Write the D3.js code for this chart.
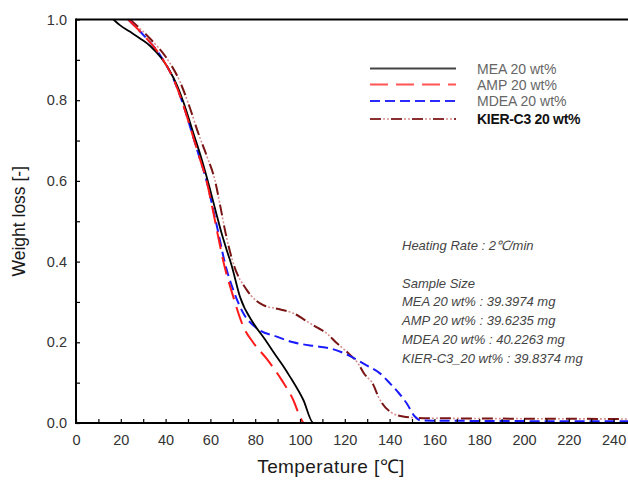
<!DOCTYPE html>
<html>
<head>
<meta charset="utf-8">
<script src="https://cdn.jsdelivr.net/npm/d3@7"></script>
<style>
  html, body { margin: 0; padding: 0; background: #fff; }
  svg { display: block; font-family: "Liberation Sans", Arial, sans-serif; }
</style>
</head>
<body>
<svg id="chart" width="628" height="482"></svg>
<script>
// ---- data ----
const xTicks = [0, 20, 40, 60, 80, 100, 120, 140, 160, 180, 200, 220, 240];
const yTicks = [0.0, 0.2, 0.4, 0.6, 0.8, 1.0];

const meaT = [16.7, 19.6, 24, 28.6, 33, 38, 42, 45, 47.9, 52.3, 56.3, 59.8, 62.6, 65, 67.2, 69.5, 73.2, 79.2, 84, 89.6, 93, 95.5, 101.5, 106, 250];
const meaW = [1.0, 0.986, 0.97, 0.953, 0.935, 0.905, 0.871, 0.838, 0.796, 0.72, 0.65, 0.58, 0.52, 0.47, 0.43, 0.39, 0.313, 0.247, 0.21, 0.164, 0.137, 0.115, 0.057, 0.0, 0.0];

const ampT = [23.3, 30, 37.5, 43.4, 47.9, 51.6, 55, 58.3, 61, 63, 65.8, 70.2, 74.7, 79, 85, 92, 97, 100.3, 101.8, 250];
const ampW = [1.0, 0.962, 0.912, 0.854, 0.788, 0.722, 0.66, 0.60, 0.53, 0.475, 0.40, 0.313, 0.239, 0.2, 0.16, 0.105, 0.057, 0.012, 0.0, 0.0];

const mdeaT = [23.3, 30, 37.5, 43.4, 47.5, 51.6, 55, 58.3, 61.2, 63.4, 66.5, 70.2, 74.7, 80.7, 89.6, 97, 107.4, 113.4, 120.8, 125, 130, 135.7, 140.2, 144, 147.6, 151.3, 154, 250];
const mdeaW = [1.0, 0.962, 0.912, 0.854, 0.795, 0.722, 0.66, 0.60, 0.53, 0.475, 0.396, 0.33, 0.272, 0.235, 0.214, 0.2, 0.19, 0.185, 0.17, 0.158, 0.142, 0.123, 0.098, 0.075, 0.049, 0.016, 0.006, 0.004];

const kierT = [24.1, 33, 40.5, 46.4, 50.9, 54.6, 58.5, 62, 64.5, 66.5, 70.2, 76.2, 83.6, 90, 97, 104.5, 108.2, 112, 116, 120.8, 126.8, 128.3, 132.7, 135, 140.2, 146, 155, 250];
const kierW = [1.0, 0.953, 0.904, 0.846, 0.78, 0.718, 0.66, 0.602, 0.535, 0.478, 0.396, 0.33, 0.292, 0.283, 0.272, 0.247, 0.235, 0.222, 0.2, 0.177, 0.14, 0.125, 0.095, 0.065, 0.028, 0.016, 0.012, 0.01];

const seriesNames = ["MEA 20 wt%", "AMP 20 wt%", "MDEA 20 wt%", "KIER-C3 20 wt%"];
const notes = ["Heating Rate : 2℃/min", "", "Sample Size", "MEA 20 wt% : 39.3974 mg", "AMP 20 wt% : 39.6235 mg", "MDEA 20 wt% : 40.2263 mg", "KIER-C3_20 wt% : 39.8374 mg"];

// ---- styles ----
const styles = [
  { color: "#000000", dash: null, width: 1.8, legendColor: "#444" },
  { color: "#ff1a1a", dash: "18,8", width: 2, legendColor: "#ff5555" },
  { color: "#1a1aff", dash: "10,5", width: 2, legendColor: "#2a2aff" },
  { color: "#7a1515", dash: "11,10", width: 2, legendColor: "#8a3030",
    dotColor: "#d89090", dotDash: "0,13,2,2,2,2" }
];
const data = [
  meaT.map((t, i) => [t, meaW[i]]),
  ampT.map((t, i) => [t, ampW[i]]),
  mdeaT.map((t, i) => [t, mdeaW[i]]),
  kierT.map((t, i) => [t, kierW[i]])
];

const svg = d3.select("#chart");
const mL = 76, mR = 636, mT = 19.5, mB = 423;
const x = d3.scaleLinear().domain([0, 250]).range([mL, mR]);
const y = d3.scaleLinear().domain([0, 1]).range([mB, mT]);

svg.append("rect").attr("width", 628).attr("height", 482).attr("fill", "#fff");

svg.append("defs").append("clipPath").attr("id", "clip")
  .append("rect").attr("x", mL).attr("y", mT - 2).attr("width", mR - mL).attr("height", mB - mT + 4);

// curves
const line = d3.line().x(d => x(d[0])).y(d => y(d[1])).curve(d3.curveMonotoneX);
const g = svg.append("g").attr("clip-path", "url(#clip)");
[3, 2, 0, 1].forEach(i => {
  g.append("path").datum(data[i])
    .attr("d", line)
    .attr("fill", "none")
    .attr("stroke", styles[i].color)
    .attr("stroke-width", styles[i].width)
    .attr("stroke-dasharray", styles[i].dash);
  if (styles[i].dotDash) {
    g.append("path").datum(data[i])
      .attr("d", line)
      .attr("fill", "none")
      .attr("stroke", styles[i].dotColor)
      .attr("stroke-width", 1.6)
      .attr("stroke-dasharray", styles[i].dotDash);
  }
});

// axes
const xAxis = d3.axisBottom(x).tickValues(d3.range(0, 251, 10)).tickSizeInner(-4).tickSizeOuter(0)
  .tickFormat(d => xTicks.includes(d) ? d : "");
const gx = svg.append("g").attr("transform", `translate(0,${mB})`).call(xAxis);
gx.select(".domain").remove();
gx.selectAll(".tick line").attr("stroke", "#000").attr("stroke-width", 1.2);
gx.selectAll(".tick text").attr("font-size", 14.5).attr("fill", "#333").attr("y", 12)
  .attr("font-family", "Liberation Sans, Arial, sans-serif");

const yAxis = d3.axisLeft(y).tickValues(d3.range(0, 11).map(v => v / 10)).tickSizeInner(-4).tickSizeOuter(0)
  .tickFormat(d => yTicks.some(t => Math.abs(t - d) < 1e-9) ? d3.format(".1f")(d) : "");
const gy = svg.append("g").attr("transform", `translate(${mL},0)`).call(yAxis);
gy.select(".domain").remove();
gy.selectAll(".tick line").attr("stroke", "#000").attr("stroke-width", 1.2);
gy.selectAll(".tick text").attr("font-size", 14.5).attr("fill", "#333").attr("x", -9)
  .attr("font-family", "Liberation Sans, Arial, sans-serif");

// frame lines
svg.append("line").attr("x1", mL).attr("x2", 628).attr("y1", mB).attr("y2", mB).attr("stroke", "#000").attr("stroke-width", 2);
svg.append("line").attr("x1", mL).attr("x2", 628).attr("y1", mT).attr("y2", mT).attr("stroke", "#000").attr("stroke-width", 2);
svg.append("line").attr("x1", mL).attr("x2", mL).attr("y1", mT - 1).attr("y2", mB + 1).attr("stroke", "#000").attr("stroke-width", 2);

// axis titles
svg.append("text").attr("x", 331).attr("y", 473).attr("text-anchor", "middle")
  .attr("font-size", 19).attr("fill", "#1a1a1a").attr("letter-spacing", 0.4).text("Temperature [℃]");
svg.append("text").attr("transform", `translate(25,${(mT + mB) / 2}) rotate(-90)`).attr("text-anchor", "middle")
  .attr("font-size", 17.5).attr("fill", "#1a1a1a").text("Weight loss [-]");

// legend
const legendY = [68.5, 84.5, 101, 119];
seriesNames.forEach((name, i) => {
  svg.append("line").attr("x1", 370).attr("x2", 456).attr("y1", legendY[i]).attr("y2", legendY[i])
    .attr("stroke", styles[i].legendColor).attr("stroke-width", 2).attr("stroke-dasharray", styles[i].dash);
  if (styles[i].dotDash) {
    svg.append("line").attr("x1", 370).attr("x2", 456).attr("y1", legendY[i]).attr("y2", legendY[i])
      .attr("stroke", styles[i].dotColor).attr("stroke-width", 1.6).attr("stroke-dasharray", styles[i].dotDash);
  }
  svg.append("text").attr("x", 477).attr("y", legendY[i] + 5).attr("font-size", 14)
    .attr("fill", i === 3 ? "#111" : "#666").attr("font-weight", i === 3 ? "bold" : "normal")
    .attr("letter-spacing", i === 3 ? -0.3 : 0)
    .text(name);
});

// notes
notes.forEach((t, i) => {
  if (!t) return;
  svg.append("text").attr("x", 402).attr("y", 250 + i * 18.8).attr("font-size", 13)
    .attr("font-style", "italic").attr("fill", "#444").text(t);
});
</script>
</body>
</html>
